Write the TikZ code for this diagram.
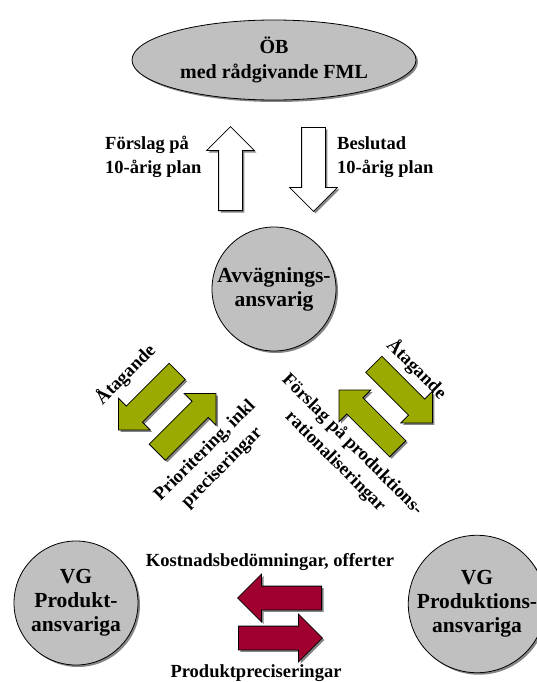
\documentclass[tikz,border=0pt]{standalone}
\usepackage{fontspec}
\setmainfont{Liberation Serif}
\usetikzlibrary{shapes.geometric,shapes.arrows,shadows}
\definecolor{discgray}{RGB}{192,192,192}
\definecolor{leafgreen}{RGB}{155,170,0}
\definecolor{wine}{RGB}{160,0,48}
\begin{document}
\begin{tikzpicture}[x=1pt,y=-1pt,
  shade/.style={drop shadow={shadow xshift=2pt,shadow yshift=-2pt,fill=black!60,opacity=.8}},
  lbl/.style={font=\fontsize{18.5}{24}\selectfont\bfseries,inner sep=0pt,align=center},
  disctext/.style={font=\fontsize{21.5}{24}\selectfont\bfseries,align=center},
  disc/.style={circle,draw=black,line width=0.8pt,fill=discgray,minimum size=124pt,
    inner sep=0pt,disctext,shade},
  blockarrow/.style={single arrow,draw=black,line width=0.8pt,anchor=tail,shade},
  hollowarrow/.style={blockarrow,fill=white,minimum height=84pt,inner sep=11.5pt,
    single arrow head extend=12pt},
  greenarrow/.style={blockarrow,fill=leafgreen,minimum height=83pt,inner sep=11pt,
    single arrow head extend=11pt},
  redarrow/.style={blockarrow,fill=wine,minimum height=84pt,inner sep=11.5pt,
    single arrow head extend=12pt}
]
\useasboundingbox (0,0) rectangle (537,682);

% organisational units
\node[ellipse,draw=black,line width=0.8pt,fill=discgray,minimum width=284pt,
  minimum height=80pt,inner sep=0pt,font=\fontsize{20}{25}\selectfont\bfseries,
  align=center,shade] (ob) at (274,60) {ÖB\\med rådgivande FML};
\node[disc] (avv) at (274,289) {Avvägnings-\\ansvarig};
\node[disc] (prod) at (76,603) {VG\\Produkt-\\ansvariga};
\node[disc] (prodn) at (477,604) {VG\\Produktions-\\ansvariga};

% plan exchange with the top level
\node[hollowarrow,rotate=90] (up) at (230.5,211) {};
\node[hollowarrow,rotate=-90] (down) at (313.5,127) {};
\node[lbl,anchor=west,align=left] (upl) at (105,157) {Förslag på\\10-årig plan};
\node[lbl,anchor=west,align=left] (downl) at (337,157) {Beslutad\\10-årig plan};

% exchange with the product side
\node[greenarrow,rotate=225] (ga) at (177.5,371) {};
\node[greenarrow,rotate=45] (gb) at (157,452.5) {};
\node[lbl,rotate=45] (gal) at (125.5,374.5) {Åtagande};
\node[lbl,rotate=45] (gbl) at (213.7,459.5) {Prioritering, inkl\\preciseringar};

% exchange with the production side
\node[greenarrow,rotate=-45] (gc) at (373.5,364) {};
\node[greenarrow,rotate=135] (gd) at (398,449) {};
\node[lbl,rotate=-45] (gcl) at (416.7,369) {Åtagande};
\node[lbl,rotate=-45] (gdl) at (343.7,453.3) {Förslag på produktions-\\rationaliseringar};

% exchange between the two VG units
\node[redarrow,rotate=180] (ra) at (322,598) {};
\node[redarrow] (rb) at (238,638) {};
\node[lbl] (ral) at (270,562) {Kostnadsbedömningar, offerter};
\node[lbl] (rbl) at (256,673) {Produktpreciseringar};
\end{tikzpicture}
\end{document}
